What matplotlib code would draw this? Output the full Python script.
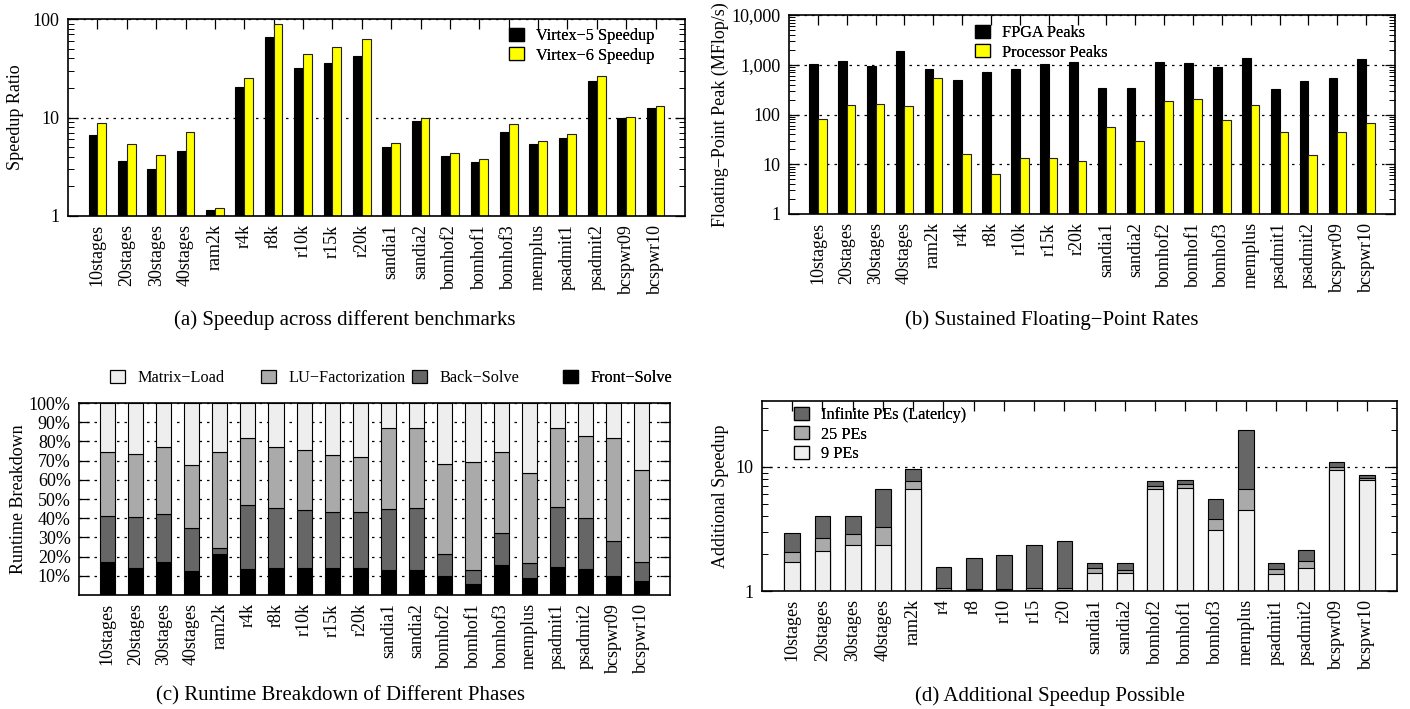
import matplotlib
matplotlib.use('Agg')
import matplotlib.pyplot as plt
from matplotlib.patches import Patch

plt.rcParams['font.family'] = ['Liberation Serif', 'DejaVu Serif']
plt.rcParams['font.size'] = 13

# benchmarks (x axis)
bench = ['10stages', '20stages', '30stages', '40stages', 'ram2k', 'r4k', 'r8k', 'r10k',
         'r15k', 'r20k', 'sandia1', 'sandia2', 'bomhof2', 'bomhof1', 'bomhof3', 'memplus',
         'psadmit1', 'psadmit2', 'bcspwr09', 'bcspwr10']
bench_d = ['10stages', '20stages', '30stages', '40stages', 'ram2k', 'r4', 'r8', 'r10',
           'r15', 'r20', 'sandia1', 'sandia2', 'bomhof2', 'bomhof1', 'bomhof3', 'memplus',
           'psadmit1', 'psadmit2', 'bcspwr09', 'bcspwr10']

# (a) speedup ratio
virtex5 = [6.6, 3.6, 3.0, 4.6, 1.15, 20.5, 65, 32, 36, 42, 5.0, 9.3, 4.1, 3.55, 7.1, 5.4,
           6.2, 23.4, 9.8, 12.4]
virtex6 = [8.8, 5.4, 4.2, 7.1, 1.2, 25, 88, 44, 52, 62, 5.5, 10.0, 4.35, 3.75, 8.5, 5.8,
           6.8, 26.4, 10.1, 13.2]

# (b) MFlop/s
fpga_peak = [1020, 1200, 925, 1850, 830, 490, 725, 805, 1015, 1130, 340, 340, 1110, 1080,
             885, 1340, 330, 470, 530, 1280]
proc_peak = [83, 153, 163, 149, 540, 16.1, 6.3, 13.6, 13.2, 11.8, 55, 29.6, 184, 209, 76,
             156, 45, 15.3, 43.6, 67]

# (c) runtime share in percent
front_solve = [17.0, 14.3, 17.0, 12.4, 21.2, 13.8, 14.3, 14.3, 14.3, 14.3, 13.1, 12.8,
               10.1, 5.9, 15.6, 8.9, 14.7, 13.8, 10.1, 7.2]
back_solve = [24.3, 26.4, 25.0, 22.4, 3.5, 32.9, 31.2, 30.1, 29.1, 28.7, 31.7, 32.7,
              11.4, 7.2, 16.9, 7.7, 31.1, 26.2, 18.2, 10.1]
lu_fact = [33.0, 32.7, 35.1, 32.9, 49.6, 34.9, 31.6, 30.9, 29.3, 28.7, 42.3, 41.6,
           46.9, 56.0, 41.8, 46.9, 41.3, 42.9, 53.7, 47.7]
matrix_load = [25.7, 26.6, 22.9, 32.3, 25.7, 18.4, 22.9, 24.7, 27.3, 28.3, 12.9, 12.9,
               31.6, 30.9, 25.7, 36.5, 12.9, 17.1, 18.0, 35.0]

# (d) additional speedup
pe9 = [1.70, 2.09, 2.37, 2.35, 6.7, 1.02, 1.02, 1.02, 1.02, 1.02, 1.40, 1.39, 6.7, 6.75,
       3.08, 4.46, 1.37, 1.53, 9.4, 7.86]
pe25 = [2.07, 2.65, 2.86, 3.25, 7.77, 1.06, 1.04, 1.04, 1.05, 1.05, 1.52, 1.49, 7.08,
        7.25, 3.8, 6.7, 1.50, 1.75, 9.95, 8.2]
pe_inf = [2.91, 3.99, 3.99, 6.58, 9.7, 1.56, 1.83, 1.95, 2.33, 2.51, 1.69, 1.67, 7.68,
          7.9, 5.5, 19.7, 1.69, 2.14, 10.9, 8.6]

W, H = 1410, 709
fig = plt.figure(figsize=(W / 100, H / 100), dpi=100)
x = list(range(len(bench)))
grid_ls = (0, (2, 4))


def px_axes(l, t, r, b):
    return fig.add_axes([l / W, 1 - b / H, (r - l) / W, (b - t) / H])


def style(ax, labels, top=True):
    ax.set_xlim(-1, len(labels))
    ax.set_xticks(x)
    ax.set_xticklabels(labels, rotation=90, va='top', ha='center')
    ax.tick_params(axis='x', which='both', bottom=False, top=top, direction='in',
                   length=7, width=0.9, pad=6)
    ax.tick_params(axis='y', which='major', left=True, right=True, direction='in',
                   length=7, width=0.9, pad=6)
    ax.tick_params(axis='y', which='minor', left=True, right=True, direction='in',
                   length=4, width=0.7)
    for s in ax.spines.values():
        s.set_linewidth(1.2)
    ax.yaxis.grid(True, which='major', ls=grid_ls, color='black', lw=0.9)
    ax.set_axisbelow(True)


def box_legend(ax, handles, px, py):
    leg = ax.legend(handles=handles, loc='upper left', bbox_to_anchor=(px / W, 1 - py / H),
                    bbox_transform=fig.transFigure, frameon=False, borderpad=0,
                    borderaxespad=0, fontsize=11.7, handlelength=0.92, handleheight=0.86,
                    handletextpad=0.75, labelspacing=0.2)
    ax.add_artist(leg)


def box(color, label):
    return Patch(facecolor=color, edgecolor='black', lw=0.9, label=label)


# ---- (a)
ax = px_axes(68, 19, 685, 216)
w = 0.3
ax.set_yscale('log')
ax.bar([i - w / 2 for i in x], virtex5, w, color='black', edgecolor='black', lw=0.8)
ax.bar([i + w / 2 for i in x], virtex6, w, color='#ffff00', edgecolor='#222222', lw=0.8)
ax.set_ylim(1, 100)
ax.set_yticks([1, 10, 100])
ax.set_yticklabels(['1', '10', '100'])
style(ax, bench)
ax.set_ylabel('Speedup Ratio', labelpad=6)
box_legend(ax, [box('black', 'Virtex\u22125 Speedup'), box('#ffff00', 'Virtex\u22126 Speedup')],
           509, 28)

# ---- (b)
ax = px_axes(789, 15, 1395, 214)
ax.set_yscale('log')
ax.bar([i - w / 2 for i in x], fpga_peak, w, color='black', edgecolor='black', lw=0.8)
ax.bar([i + w / 2 for i in x], proc_peak, w, color='#ffff00', edgecolor='#222222', lw=0.8)
ax.set_ylim(1, 10000)
ax.set_yticks([1, 10, 100, 1000, 10000])
ax.set_yticklabels(['1', '10', '100', '1,000', '10,000'])
style(ax, bench)
ax.set_ylabel('Floating\u2212Point Peak (MFlop/s)', labelpad=2)
box_legend(ax, [box('black', 'FPGA Peaks'), box('#ffff00', 'Processor Peaks')], 975, 25)

# ---- (c)
ax = px_axes(79, 403, 670, 595)
phases = [front_solve, back_solve, lu_fact, matrix_load]
phase_names = ['Front\u2212Solve', 'Back\u2212Solve', 'LU\u2212Factorization', 'Matrix\u2212Load']
phase_cols = ['black', '#666666', '#aaaaaa', '#eeeeee']
bottom = [0.0] * len(x)
for vals, col in zip(phases, phase_cols):
    ax.bar(x, vals, 0.54, bottom=bottom, color=col, edgecolor='black', lw=0.8)
    bottom = [b + v for b, v in zip(bottom, vals)]
ax.set_ylim(0, 100)
ax.set_yticks(range(10, 101, 10))
ax.set_yticklabels(['%d%%' % v for v in range(10, 101, 10)])
style(ax, bench, top=False)
ax.set_ylabel('Runtime Breakdown', labelpad=1)
for nm, col, px in zip(phase_names[::-1], phase_cols[::-1], [110, 261, 412, 563]):
    box_legend(ax, [box(col, nm)], px, 370)

# ---- (d)
ax = px_axes(762, 401, 1397, 591)
ax.set_yscale('log')
ax.bar(x, pe_inf, 0.52, color='#666666', edgecolor='black', lw=0.8)
ax.bar(x, pe25, 0.52, color='#aaaaaa', edgecolor='black', lw=0.8)
ax.bar(x, pe9, 0.52, color='#eeeeee', edgecolor='black', lw=0.8)
ax.set_ylim(1, 34)
ax.set_yticks([1, 10])
ax.set_yticklabels(['1', '10'])
style(ax, bench_d)
ax.set_ylabel('Additional Speedup', labelpad=5)
box_legend(ax, [box('#666666', 'Infinite PEs (Latency)'), box('#aaaaaa', '25 PEs'),
                box('#eeeeee', '9 PEs')], 794, 407)

# captions
fig.text(345 / W, 1 - 320 / H, '(a) Speedup across different benchmarks', ha='center',
         va='center', fontsize=15)
fig.text(1052 / W, 1 - 320 / H, '(b) Sustained Floating\u2212Point Rates', ha='center',
         va='center', fontsize=15)
fig.text(340 / W, 1 - 696 / H, '(c) Runtime Breakdown of Different Phases', ha='center',
         va='center', fontsize=15)
fig.text(1050 / W, 1 - 696 / H, '(d) Additional Speedup Possible', ha='center',
         va='center', fontsize=15)

fig.savefig('out.png', dpi=100)
